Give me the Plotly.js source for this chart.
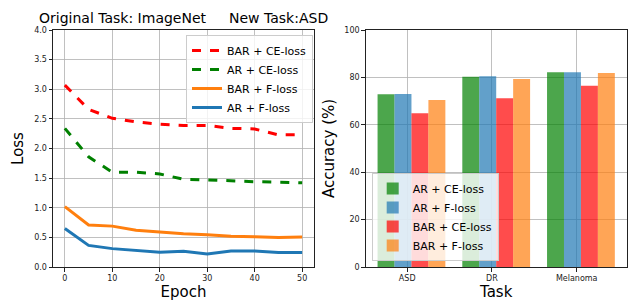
<!DOCTYPE html>
<html><head><meta charset="utf-8">
<script src="https://cdn.plot.ly/plotly-3.0.1.min.js"></script>
<style>html,body{margin:0;padding:0;background:#fff}#c{width:635px;height:301px}</style>
</head><body><div id="c"></div>
<script>
// Left: loss curves
const epochs = [0,5,10,15,20,25,30,35,40,45,50];
const barCE = [3.07,2.66,2.51,2.45,2.41,2.39,2.39,2.34,2.33,2.23,2.23];
const arCE  = [2.34,1.86,1.60,1.60,1.57,1.48,1.47,1.45,1.44,1.43,1.42];
const barF  = [1.02,0.71,0.69,0.62,0.59,0.56,0.545,0.52,0.51,0.50,0.505];
const arF   = [0.65,0.365,0.31,0.275,0.25,0.265,0.22,0.27,0.27,0.245,0.245];
// Right: accuracy bars
const tasks = ["ASD","DR","Melanoma"];
const accArCE  = [72.9,80.3,82.2];
const accArF   = [73.0,80.5,82.2];
const accBarCE = [64.9,71.2,76.5];
const accBarF  = [70.5,79.3,81.9];

const font = "DejaVu Sans, sans-serif";
const idx = tasks.map((_,i)=>i);
const offs = [-0.25,-0.05,0.15,0.35];

function line(y,name,color,dash){
  return {x:epochs,y:y,name:name,type:'scatter',mode:'lines',xaxis:'x',yaxis:'y',
    line:{color:color,width:3,dash:dash},legend:'legend'};
}
function bar(y,k,name,color){
  return {x:idx.map(i=>i+offs[k]),y:y,name:name,type:'bar',width:0.2,xaxis:'x2',yaxis:'y2',
    marker:{color:color,line:{width:0}},legend:'legend2'};
}
const data = [
  line(barCE,'BAR + CE-loss','#ff0000','dash'),
  line(arCE,'AR + CE-loss','#008000','dash'),
  line(barF,'BAR + F-loss','#ff7f0e','solid'),
  line(arF,'AR + F-loss','#1f77b4','solid'),
  bar(accArCE,0,'AR + CE-loss','rgba(0,128,0,0.7)'),
  bar(accArF,1,'AR + F-loss','rgba(31,119,180,0.7)'),
  bar(accBarCE,2,'BAR + CE-loss','rgba(255,0,0,0.7)'),
  bar(accBarF,3,'BAR + F-loss','rgba(255,127,14,0.7)')
];
const ax = {showline:true,mirror:true,linecolor:'#222',linewidth:1,ticks:'outside',ticklen:3.5,
  tickcolor:'#222',showgrid:true,gridcolor:'#b0b0b0',gridwidth:0.8,zeroline:false,
  tickfont:{family:font,size:8,color:'#222'}};
const layout = {
  width:635,height:301,margin:{l:0,r:0,t:0,b:0},paper_bgcolor:'#fff',plot_bgcolor:'#fff',
  font:{family:font,color:'#000'},showlegend:true,
  xaxis:Object.assign({},ax,{domain:[53/635,314/635],range:[-2.5,52.5],tickvals:[0,10,20,30,40,50],
    title:{text:'Epoch',font:{family:font,size:15},standoff:4}}),
  yaxis:Object.assign({},ax,{domain:[34/301,271/301],range:[0,4],tickvals:[0,0.5,1,1.5,2,2.5,3,3.5,4],
    ticktext:['0.0','0.5','1.0','1.5','2.0','2.5','3.0','3.5','4.0'],
    title:{text:'Loss',font:{family:font,size:15},standoff:6}}),
  xaxis2:Object.assign({},ax,{domain:[365.7/635,626.7/635],range:[-0.49,2.59],tickvals:idx,ticktext:tasks,
    title:{text:'Task',font:{family:font,size:15},standoff:4}}),
  yaxis2:Object.assign({},ax,{domain:[34/301,271/301],range:[0,100],tickvals:[0,20,40,60,80,100],anchor:'x2',
    title:{text:'Accuracy (%)',font:{family:font,size:15},standoff:6}}),
  legend:{x:313/635,xanchor:'right',y:1-35/301,yanchor:'top',bgcolor:'rgba(255,255,255,0.8)',
    bordercolor:'#cccccc',borderwidth:1,font:{family:font,size:11},tracegroupgap:0,itemwidth:30},
  legend2:{x:371.7/635,xanchor:'left',y:1-261/301,yanchor:'bottom',bgcolor:'rgba(255,255,255,0.8)',
    bordercolor:'#cccccc',borderwidth:1,font:{family:font,size:11},tracegroupgap:0,itemwidth:30},
  annotations:[
    {text:'Original Task: ImageNet',x:37.7/635,y:1-18/301,xref:'paper',yref:'paper',showarrow:false,
     font:{family:font,size:14,color:'#000'},xanchor:'left',yanchor:'middle',borderpad:0},
    {text:'New Task:ASD',x:329.3/635,y:1-18/301,xref:'paper',yref:'paper',showarrow:false,
     font:{family:font,size:14,color:'#000'},xanchor:'right',yanchor:'middle',borderpad:0}
  ]
};
layout.xaxis2.anchor='y2';
Plotly.newPlot('c',data,layout,{displayModeBar:false,staticPlot:true});
</script></body></html>
